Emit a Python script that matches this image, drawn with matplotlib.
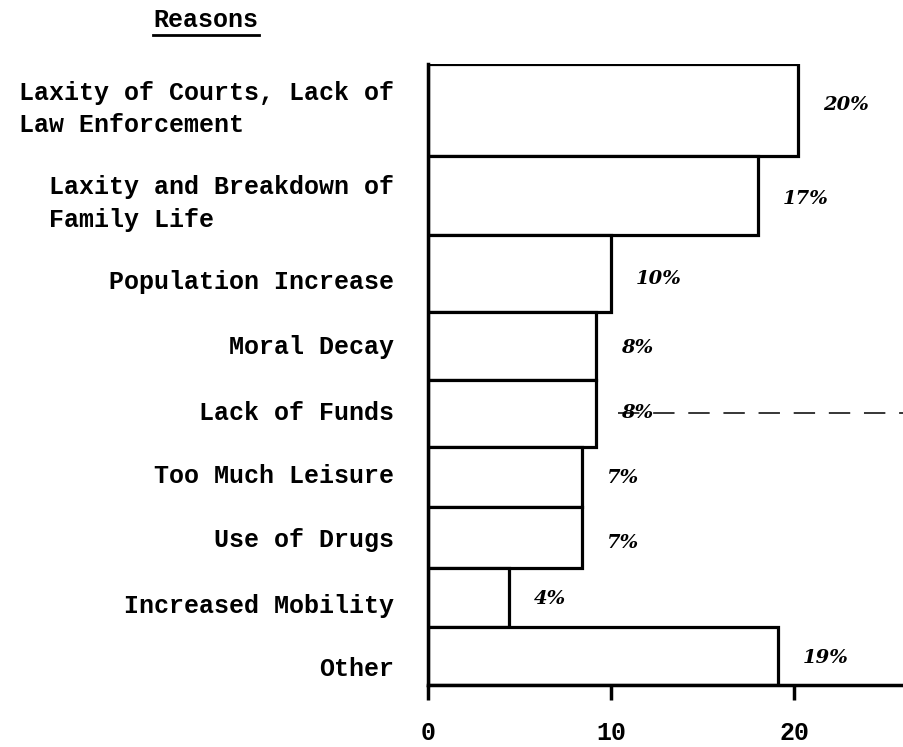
import numpy as np
import matplotlib
matplotlib.use("Agg")
import matplotlib.pyplot as plt
from matplotlib.lines import Line2D

# data
reasons = [
    "Laxity of Courts, Lack of\nLaw Enforcement",
    "Laxity and Breakdown of\nFamily Life",
    "Population Increase",
    "Moral Decay",
    "Lack of Funds",
    "Too Much Leisure",
    "Use of Drugs",
    "Increased Mobility",
    "Other",
]
bar_lengths = [20.2, 18.0, 10.0, 9.2, 9.2, 8.4, 8.4, 4.4, 19.1]
value_labels = ["20%", "17%", "10%", "8%", "8%", "7%", "7%", "4%", "19%"]
x_ticks = [0, 10, 20]

# layout: row heights (pixels) and label nudges, as drawn on the typed page
ROW_H = np.array([92, 79, 77, 68, 67, 60, 61, 59, 58])
LABEL_NUDGE = [-1, 8, 8, 1, 0, -1, 3, 8, 13]
VALUE_NUDGE = [-5, 4, 6, 2, -1, 1, 5, 2, 2]

MONO = "Liberation Mono"
HAND = "DejaVu Serif"


def Main():
    fig = plt.figure(figsize=(9.04, 7.47), dpi=100)
    total = ROW_H.sum()
    ax = fig.add_axes([428 / 904, 62 / 747, 1 - 428 / 904, total / 747])

    tops = np.concatenate([[0], np.cumsum(ROW_H)[:-1]])
    centers = tops + ROW_H / 2

    ax.barh(centers, bar_lengths, height=ROW_H, color="white",
            edgecolor="black", linewidth=2.3)

    ax.set_xlim(0, 26)
    ax.set_ylim(total, 0)

    for s in ["top", "right"]:
        ax.spines[s].set_visible(False)
    ax.spines["left"].set_linewidth(2.5)
    ax.spines["bottom"].set_linewidth(2.5)

    ax.set_xticks(x_ticks)
    ax.set_xticklabels([str(t) for t in x_ticks], fontfamily=MONO,
                       fontweight="bold", fontsize=18)
    ax.tick_params(axis="x", direction="out", length=11, width=2.5, pad=15)
    ax.set_yticks([])

    for c, name, nudge in zip(centers, reasons, LABEL_NUDGE):
        ax.text(-1.85, c + nudge, name, ha="right", va="center",
                multialignment="left", fontfamily=MONO, fontweight="bold",
                fontsize=18, linespacing=1.45, clip_on=False)

    for c, length, lab, nudge in zip(centers, bar_lengths, value_labels, VALUE_NUDGE):
        ax.annotate(lab, (length, c + nudge), xytext=(18, 0),
                    textcoords="offset points", ha="left", va="center",
                    fontfamily=HAND, fontstyle="italic", fontweight="bold",
                    fontsize=14)

    # stray dashed line from the scan next to "Lack of Funds"
    ax.plot([10.4, 26], [centers[4] - 1, centers[4] - 1], color="black",
            linewidth=1.1, linestyle=(0, (14, 9)), clip_on=False)

    title = fig.text(206 / 904, 1 - 20 / 747, "Reasons", ha="center",
                     va="center", fontfamily=MONO, fontweight="bold",
                     fontsize=18)
    fig.canvas.draw()
    bb = title.get_window_extent().transformed(fig.transFigure.inverted())
    fig.add_artist(Line2D([bb.x0, bb.x1], [bb.y0 - 0.004, bb.y0 - 0.004],
                          color="black", linewidth=2, transform=fig.transFigure))

    fig.savefig("out.png", dpi=100)
    plt.close(fig)


if __name__ == "__main__":
    Main()
